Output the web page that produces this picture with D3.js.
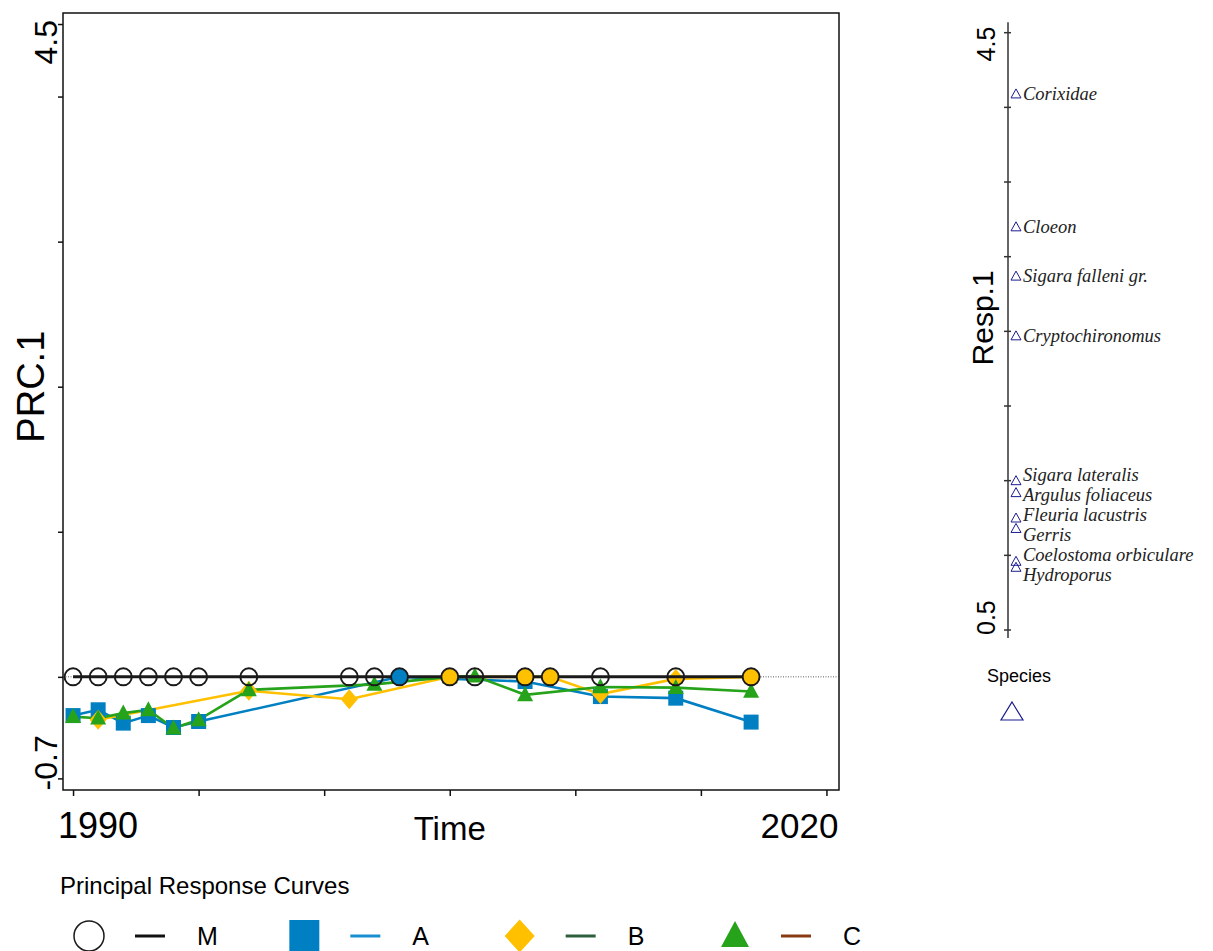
<!DOCTYPE html>
<html>
<head>
<meta charset="utf-8">
<script src="https://cdn.jsdelivr.net/npm/d3@7"></script>
<style>
  body { margin: 0; background: #fff; }
  svg { display: block; }
  text { font-family: "Liberation Sans", Arial, sans-serif; fill: #000; }
</style>
</head>
<body>
<div id="chart"></div>
<script>
// sampling years
const years = [1990, 1991, 1992, 1993, 1994, 1995, 1997, 2001, 2002, 2003, 2005, 2006, 2008, 2009, 2011, 2014, 2017];

// PRC.1 per treatment (null = not sampled)
const prcM = [0, 0, 0, 0, 0, 0, 0, 0, 0, 0, 0, 0, 0, 0, 0, 0, 0];
const prcA = [-0.267, -0.227, -0.319, -0.267, -0.349, -0.308, null, null, null, 0, null, null, -0.032, null, -0.136, -0.147, -0.312];
const prcB = [null, -0.296, null, null, null, null, -0.096, -0.154, null, null, 0, null, 0, 0, -0.119, -0.014, 0];
const prcC = [-0.274, -0.285, -0.25, -0.227, -0.354, -0.296, -0.09, null, -0.052, null, 0, 0.005, -0.124, null, -0.07, -0.074, -0.101];

// which treatment coincides with the control circle
const filledCircle = [null, null, null, null, null, null, null, null, null, "A", "B", null, "B", "B", null, null, "B"];

// species weights (Resp.1)
const speciesNames = ["Corixidae", "Cloeon", "Sigara falleni gr.", "Cryptochironomus", "Sigara lateralis",
  "Argulus foliaceus", "Fleuria lacustris", "Gerris", "Coelostoma orbiculare", "Hydroporus"];
const speciesScores = [4.09, 3.2, 2.87, 2.47, 1.5, 1.42, 1.25, 1.18, 0.96, 0.92];

const xTicks = [1990, 1995, 2000, 2005, 2010, 2015, 2020];
const xLabels = [1990, 2020];
const yTicks = [-0.7, 0, 1, 2, 3, 4, 4.5];
const respTicks = [0.5, 1, 1.5, 2, 2.5, 3, 3.5, 4, 4.5];

const legendNames = ["M", "A", "B", "C"];

const style = {
  M: { color: "#fff", shape: "circle" },
  A: { color: "#0080c2", shape: "square" },
  B: { color: "#ffc000", shape: "diamond" },
  C: { color: "#26a31a", shape: "triangle" }
};
const legendLine = { M: "#111", A: "#1a8fd0", B: "#2d5f3c", C: "#8a3a12" };
const navy = "#1c1c8f";

const width = 1213, height = 951;
const svg = d3.select("#chart").append("svg")
  .attr("width", width).attr("height", height);

// ---------- main PRC panel ----------
const box = { left: 63, right: 839, top: 13, bottom: 790 };

const xScale = d3.scaleLinear().domain([1989.6, 2020.5]).range([box.left, box.right]);
const yScale = d3.scaleLinear().domain([-0.78, 4.576]).range([box.bottom, box.top]);

const g = svg.append("g");

g.append("rect")
  .attr("x", box.left).attr("y", box.top)
  .attr("width", box.right - box.left).attr("height", box.bottom - box.top)
  .attr("fill", "none").attr("stroke", "#111").attr("stroke-width", 1.5);

const xAxis = g.append("g")
  .attr("transform", `translate(0,${box.bottom})`)
  .call(d3.axisBottom(xScale).tickValues(xTicks).tickSize(6).tickFormat(""));
const yAxis = g.append("g")
  .attr("transform", `translate(${box.left},0)`)
  .call(d3.axisLeft(yScale).tickValues(yTicks).tickSize(5).tickFormat(""));
[xAxis, yAxis].forEach(a => {
  a.select(".domain").remove();
  a.selectAll("line").attr("stroke", "#111").attr("stroke-width", 1.5);
});

g.append("text")
  .attr("x", xScale(xLabels[0]) - 15).attr("y", 838)
  .attr("text-anchor", "start").style("font-size", "36px")
  .text(xLabels[0]);
g.append("text")
  .attr("x", xScale(xLabels[1]) + 12).attr("y", 838)
  .attr("text-anchor", "end").style("font-size", "35px")
  .text(xLabels[1]);
g.append("text")
  .attr("x", xScale(2005)).attr("y", 840)
  .attr("text-anchor", "middle").style("font-size", "33px")
  .text("Time");

g.append("text")
  .attr("transform", `translate(57,${yScale(4.5) - 4}) rotate(-90)`)
  .attr("text-anchor", "end").style("font-size", "32px")
  .text("4.5");
g.append("text")
  .attr("transform", `translate(57,${yScale(-0.7) + 12}) rotate(-90)`)
  .attr("text-anchor", "start").style("font-size", "32px")
  .text("-0.7");
g.append("text")
  .attr("transform", `translate(44,${yScale(2)}) rotate(-90)`)
  .attr("text-anchor", "middle").style("font-size", "38px")
  .text("PRC.1");

// zero reference
g.append("line")
  .attr("x1", box.left).attr("x2", box.right)
  .attr("y1", yScale(0)).attr("y2", yScale(0))
  .attr("stroke", "#333").attr("stroke-width", 0.8)
  .attr("stroke-dasharray", "1,1.5");

function shapePath(shape, w, h) {
  if (shape === "square") return `M${-w},${-h}H${w}V${h}H${-w}Z`;
  if (shape === "diamond") return `M0,${-h}L${w},0L0,${h}L${-w},0Z`;
  if (shape === "triangle") return `M0,${-h * 1.15}L${w},${h * 0.85}L${-w},${h * 0.85}Z`;
  return "";
}
const plotSize = { square: [7.5, 7.5], diamond: [8.5, 10], triangle: [8, 7.5] };

const seriesData = { A: prcA, B: prcB, C: prcC };

const lineGen = d3.line()
  .x(d => xScale(d.year))
  .y(d => yScale(d.v));

function points(vals) {
  return years.map((yr, i) => ({ year: yr, v: vals[i], i }))
    .filter(d => d.v !== null);
}

["A", "B", "C"].forEach(k => {
  g.append("path")
    .attr("d", lineGen(points(seriesData[k])))
    .attr("fill", "none")
    .attr("stroke", style[k].color)
    .attr("stroke-width", 2.6);
});

["A", "B", "C"].forEach(k => {
  const s = plotSize[style[k].shape];
  g.selectAll(null)
    .data(points(seriesData[k]).filter(d => !(filledCircle[d.i] === k && d.v === 0)))
    .join("path")
    .attr("transform", d => `translate(${xScale(d.year)},${yScale(d.v)})`)
    .attr("d", shapePath(style[k].shape, s[0], s[1]))
    .attr("fill", style[k].color);
});

g.append("path")
  .attr("d", lineGen(points(prcM)))
  .attr("fill", "none")
  .attr("stroke", "#1a1a1a")
  .attr("stroke-width", 3);

g.selectAll(null)
  .data(points(prcM))
  .join("circle")
  .attr("cx", d => xScale(d.year))
  .attr("cy", d => yScale(d.v))
  .attr("r", 8.5)
  .attr("fill", d => filledCircle[d.i] ? style[filledCircle[d.i]].color : "none")
  .attr("stroke", "#1a1a1a")
  .attr("stroke-width", 2);

// ---------- species panel ----------
const axX = 1008;
const yResp = d3.scaleLinear().domain([0.5, 4.5]).range([630, 32.7]);

svg.append("line")
  .attr("x1", axX).attr("x2", axX)
  .attr("y1", yResp(4.57)).attr("y2", yResp(0.447))
  .attr("stroke", "#333").attr("stroke-width", 1.5);
svg.selectAll(null)
  .data(respTicks)
  .join("line")
  .attr("x1", axX - 4).attr("x2", axX + 3)
  .attr("y1", d => yResp(d)).attr("y2", d => yResp(d))
  .attr("stroke", "#333").attr("stroke-width", 1.5);

svg.append("text")
  .attr("transform", `translate(995,${yResp(4.5) - 6}) rotate(-90)`)
  .attr("text-anchor", "end").style("font-size", "25px")
  .text("4.5");
svg.append("text")
  .attr("transform", `translate(995,${yResp(0.5) + 5}) rotate(-90)`)
  .attr("text-anchor", "start").style("font-size", "25px")
  .text("0.5");
svg.append("text")
  .attr("transform", `translate(993,${yResp(2.59)}) rotate(-90)`)
  .attr("text-anchor", "middle").style("font-size", "30px")
  .text("Resp.1");

// label positions, pushed apart where they collide
const minGap = 20;
const spec = speciesNames.map((n, i) => ({ name: n, y: yResp(speciesScores[i]) }))
  .sort((a, b) => a.y - b.y);
spec.forEach(d => d.ly = d.y);
for (let it = 0; it < 30; it++) {
  for (let i = 1; i < spec.length; i++) {
    const gap = spec[i].ly - spec[i - 1].ly;
    if (gap < minGap) {
      const push = (minGap - gap) / 2;
      spec[i].ly += push;
      spec[i - 1].ly -= push;
    }
  }
}

const triSmall = "M0,-5L5,4L-5,4Z";
svg.selectAll(null)
  .data(spec)
  .join("path")
  .attr("transform", d => `translate(1016,${d.y})`)
  .attr("d", triSmall)
  .attr("fill", "none")
  .attr("stroke", navy)
  .attr("stroke-width", 1);

svg.selectAll(null)
  .data(spec)
  .join("text")
  .attr("x", 1023)
  .attr("y", d => d.ly + 6)
  .style("font-family", "'Liberation Serif', 'Times New Roman', serif")
  .style("font-style", "italic")
  .style("font-size", "18.5px")
  .style("fill", "#222")
  .text(d => d.name);

svg.append("text")
  .attr("x", 987).attr("y", 682)
  .style("font-size", "18px")
  .text("Species");
svg.append("path")
  .attr("transform", "translate(1012,712)")
  .attr("d", "M0,-10L11,8L-11,8Z")
  .attr("fill", "none")
  .attr("stroke", navy)
  .attr("stroke-width", 1.2);

// ---------- legend ----------
svg.append("text")
  .attr("x", 60).attr("y", 894)
  .style("font-size", "24px")
  .text("Principal Response Curves");

const legendX = d3.scalePoint().domain(legendNames).range([89, 735]);
const legendY = 936;
const leg = svg.selectAll(null)
  .data(legendNames)
  .join("g")
  .attr("transform", d => `translate(${legendX(d)},${legendY})`);

leg.each(function(k) {
  const row = d3.select(this);
  const shape = style[k].shape;
  if (shape === "circle") {
    row.append("circle").attr("r", 15)
      .attr("fill", "none").attr("stroke", "#1a1a1a").attr("stroke-width", 1.5);
  } else {
    const sz = { square: [15, 16], diamond: [15, 16.5], triangle: [14, 13] }[shape];
    row.append("path")
      .attr("d", shapePath(shape, sz[0], sz[1]))
      .attr("fill", style[k].color);
  }
  row.append("line")
    .attr("x1", 46).attr("x2", 76)
    .attr("stroke", legendLine[k]).attr("stroke-width", 3);
  row.append("text")
    .attr("x", 108).attr("y", 9)
    .style("font-size", "25px")
    .text(k);
});
</script>
</body>
</html>
